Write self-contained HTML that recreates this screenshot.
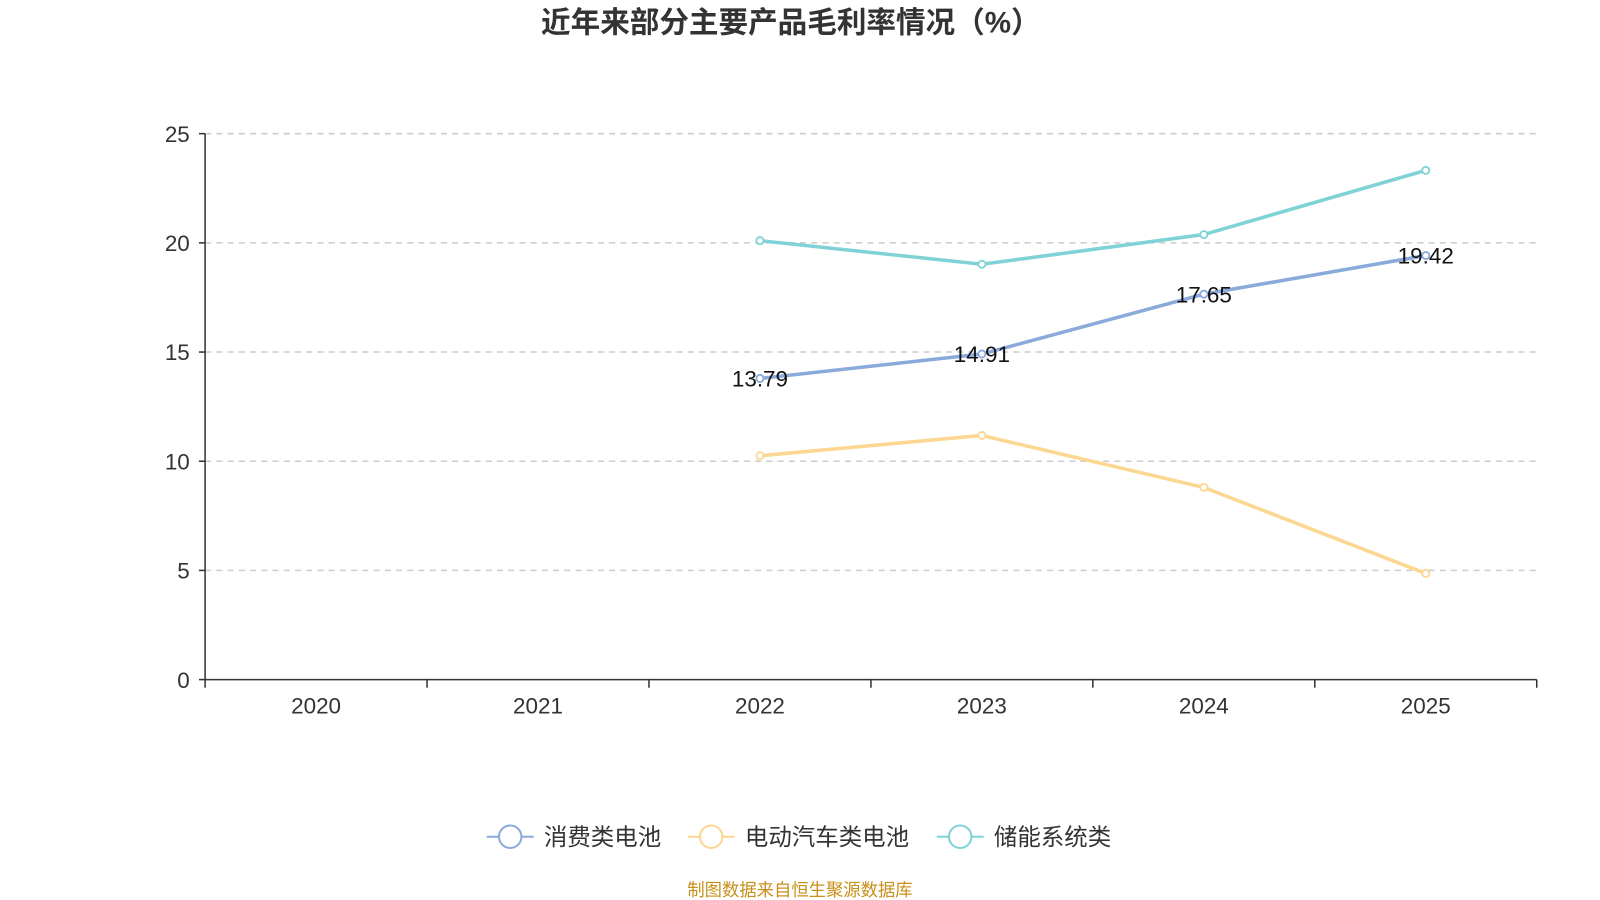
<!DOCTYPE html>
<html><head><meta charset="utf-8"><style>
body{margin:0;background:#fff;font-family:"Liberation Sans","Noto Sans CJK SC",sans-serif;}
svg{display:block}
</style></head><body>
<svg id="c" width="1600" height="900" viewBox="0 0 1568 882" xmlns="http://www.w3.org/2000/svg">
<text x="775" y="32" text-anchor="middle" font-size="29" font-weight="bold" fill="#333" font-family="Liberation Sans, Noto Sans CJK SC, sans-serif">近年来部分主要产品毛利率情况（%）</text>
<g id="grid"></g><g id="axes"></g><g id="series"></g>
<g id="legend" font-size="23" fill="#333" font-family="Liberation Sans, Noto Sans CJK SC, sans-serif"></g>
<text x="784" y="878" text-anchor="middle" font-size="17" fill="#c8901a" font-family="Liberation Sans, Noto Sans CJK SC, sans-serif">制图数据来自恒生聚源数据库</text>
</svg>
<script>
const categories=["2020","2021","2022","2023","2024","2025"];
const yTicks=[0,5,10,15,20,25];
const seriesNames=["消费类电池","电动汽车类电池","储能系统类"];
const consumer=[null,null,13.79,14.91,17.65,19.42];
const ev=[null,null,10.25,11.18,8.8,4.86];
const storage=[null,null,20.1,19.02,20.38,23.32];
const colors=["#8aaadb","#fcd791","#7fd3d6"];
const L=201,R=1506,T=131,B=666,yMax=25;
const band=(R-L)/categories.length;
const x=i=>L+band*(i+0.5);
const y=v=>B-(v/yMax)*(B-T);
const NS="http://www.w3.org/2000/svg";
function mk(tag,attrs,parent){const e=document.createElementNS(NS,tag);for(const k in attrs)e.setAttribute(k,attrs[k]);document.getElementById(parent).appendChild(e);return e;}
yTicks.forEach(t=>{
  if(t>0){const g=mk('line',{x1:L,x2:R,y1:y(t),y2:y(t),stroke:'#ccc','stroke-dasharray':'6,5','stroke-width':1.5},'grid');
  
  }
  const tl=mk('text',{x:L-15,y:y(t)+8,'text-anchor':'end','font-size':22,fill:'#333'},'axes');tl.textContent=t;
  
  
  mk('line',{x1:L-6,x2:L,y1:y(t),y2:y(t),stroke:'#333','stroke-width':1.5},'axes');
});
const ya=mk('line',{x1:L,x2:L,y1:T,y2:B,stroke:'#333','stroke-width':1.5},'axes');


const xa=mk('line',{x1:L,x2:R,y1:B,y2:B,stroke:'#333','stroke-width':1.5},'axes');


for(let i=0;i<=categories.length;i++)mk('line',{x1:L+band*i,x2:L+band*i,y1:B,y2:B+8,stroke:'#333','stroke-width':1.5},'axes');
categories.forEach((c,i)=>{const t=mk('text',{x:x(i),y:B+33,'text-anchor':'middle','font-size':22,fill:'#333'},'axes');t.textContent=c;
  
  });
[consumer,ev,storage].forEach((d,s)=>{
  const pts=d.map((v,i)=>v==null?null:[x(i),y(v)]).filter(p=>p);
  const pl=mk('polyline',{points:pts.map(p=>p.join(',')).join(' '),fill:'none',stroke:colors[s],'stroke-width':3.5},'series');
  
  
  d.forEach((v,i)=>{if(v==null)return;
    const c=mk('circle',{cx:x(i),cy:y(v),r:3.5,fill:'#fff',stroke:colors[s],'stroke-width':1.8},'series');
    
    
    if(s===0){const t=mk('text',{x:x(i),y:y(v)+8,'text-anchor':'middle','font-size':22,fill:'#111'},'series');t.textContent=v.toFixed(2);
      
      }
  });
});
const lx=[477,674,918];
seriesNames.forEach((n,s)=>{
  const g=mk('g',{},'legend');
  
  
  const a=lx[s];
  const l=document.createElementNS(NS,'line');l.setAttribute('x1',a);l.setAttribute('x2',a+46);l.setAttribute('y1',820);l.setAttribute('y2',820);l.setAttribute('stroke',colors[s]);l.setAttribute('stroke-width',2);g.appendChild(l);
  const c=document.createElementNS(NS,'circle');c.setAttribute('cx',a+23);c.setAttribute('cy',820);c.setAttribute('r',11);c.setAttribute('fill','#fff');c.setAttribute('stroke',colors[s]);c.setAttribute('stroke-width',2);g.appendChild(c);
  const t=document.createElementNS(NS,'text');t.setAttribute('x',a+56);t.setAttribute('y',828);t.textContent=n;g.appendChild(t);
});
</script>
</body></html>
